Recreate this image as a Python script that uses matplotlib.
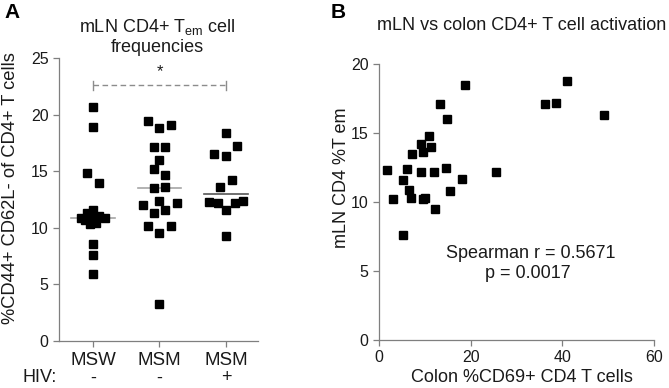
import numpy as np
import matplotlib
matplotlib.use("Agg")
import matplotlib.pyplot as plt

plt.rcParams['font.family'] = ['Liberation Sans', 'DejaVu Sans']

# panel A data: % CD44+ CD62L- of CD4+ T cells
groups = ["MSW", "MSM", "MSM"]
hiv = ["-", "-", "+"]
msw = [20.7, 18.9, 14.8, 14.0, 11.6, 11.3, 11.0, 10.9, 10.9, 10.8, 10.7, 10.4, 10.3, 8.6, 7.6, 5.9]
msm_neg = [19.4, 19.1, 18.8, 17.1, 17.1, 16.0, 15.2, 14.7, 13.6, 13.5, 12.4, 12.2, 12.0,
           11.6, 11.3, 10.2, 10.2, 9.5, 3.3]
msm_pos = [18.4, 17.2, 16.5, 16.3, 14.2, 13.6, 12.4, 12.3, 12.2, 12.2, 11.6, 9.3]

# horizontal scatter offsets (layout only)
msw_dx = [0, 0, -0.09, 0.09, 0, -0.09, 0.09, -0.18, 0.18, 0, -0.12, 0.05, -0.04, 0, 0, 0]
msm_neg_dx = [-0.17, 0.17, 0, -0.09, 0.09, 0, -0.09, 0.09, 0.09, -0.09, 0, 0.26, -0.25,
              0.09, -0.09, -0.17, 0.17, 0, 0]
msm_pos_dx = [0, 0.17, -0.18, 0, 0.09, -0.09, 0.25, -0.25, -0.12, 0.13, 0, 0]

# panel B data: colon %CD69+ vs mLN %Tem
colon = [1.8, 3.0, 5.2, 5.2, 6.2, 6.5, 6.9, 7.2, 9.2, 9.2, 9.5, 9.5, 10.0, 10.8,
         11.3, 11.9, 12.3, 13.2, 14.6, 14.9, 15.5, 18.1, 18.7, 25.5, 36.3, 38.6, 41.1, 49.0]
mln = [12.3, 10.2, 7.6, 11.6, 12.4, 10.9, 10.3, 13.5, 14.2, 12.2, 13.6, 10.2, 10.3, 14.8,
       14.0, 12.2, 9.5, 17.1, 12.5, 16.0, 10.8, 11.7, 18.5, 12.2, 17.1, 17.2, 18.8, 16.3]

W, H = 669, 388
fig = plt.figure(figsize=(W / 100, H / 100), dpi=100)
spine_col = '#7f7f7f'
txt = '#1a1a1a'

def style(ax):
    for s in ['top', 'right']:
        ax.spines[s].set_visible(False)
    for s in ['left', 'bottom']:
        ax.spines[s].set_color(spine_col)
        ax.spines[s].set_linewidth(0.9)
    ax.tick_params(colors=spine_col, labelcolor=txt, labelsize=11.5, length=4, width=0.9)

# ---- panel A
axA = fig.add_axes([59 / W, 1 - 341 / H, 199 / W, 283 / H])
style(axA)
sets = [(msw, msw_dx), (msm_neg, msm_neg_dx), (msm_pos, msm_pos_dx)]
med_cols = ['#a6a6a6', '#a6a6a6', '#555555']
for i, (vals, dx) in enumerate(sets):
    axA.plot(i + np.array(dx), vals, 's', color='black', markersize=5.6, ls='none',
             clip_on=False, zorder=3)
    m = np.median(vals)
    axA.plot([i - 0.33, i + 0.33], [m, m], color=med_cols[i], lw=1.2, zorder=2)
axA.set_xlim(-0.51, 2.48)
axA.set_ylim(0, 25)
axA.set_yticks([0, 5, 10, 15, 20, 25])
axA.set_xticks([0, 1, 2])
axA.set_xticklabels(groups, fontsize=13.5)
axA.tick_params(axis='x', pad=4)

# significance bracket
axA.plot([0, 2], [22.6, 22.6], color='#8c8c8c', lw=1, ls=(0, (4, 2.5)))
for xb in [0, 2]:
    axA.plot([xb, xb], [22.2, 23.0], color='#8c8c8c', lw=1)
axA.text(1, 23.1, '*', ha='center', va='bottom', fontsize=12, color=txt)

for i, h in enumerate(hiv):
    axA.text(i, -37 / 283, h, transform=axA.get_xaxis_transform(), ha='center', va='center',
             fontsize=13, color=txt)
fig.text(40 / W, 1 - 378 / H, 'HIV:', ha='center', va='center', fontsize=13, color=txt)

fig.text(11 / W, 1 - 188 / H, '%CD44+ CD62L- of CD4+ T cells', rotation=90, ha='center',
         va='center', fontsize=13.2, color=txt)
fig.text(157 / W, 1 - 27 / H, 'mLN CD4+ T$_{\\mathregular{em}}$ cell', ha='center', va='center',
         fontsize=13, color=txt)
fig.text(157 / W, 1 - 48 / H, 'frequencies', ha='center', va='center', fontsize=13, color=txt)
fig.text(4 / W, 1 - 13 / H, 'A', ha='left', va='center', fontsize=15, fontweight='bold')

# ---- panel B
axB = fig.add_axes([379 / W, 1 - 340 / H, 275 / W, 276 / H])
style(axB)
axB.plot(colon, mln, 's', color='black', markersize=5.6, ls='none', clip_on=False)
axB.set_xlim(0, 60)
axB.set_ylim(0, 20)
axB.set_xticks([0, 20, 40, 60])
axB.set_yticks([0, 5, 10, 15, 20])
axB.text(33, 6.3, 'Spearman r = 0.5671', ha='center', va='center', fontsize=13, color=txt)
axB.text(32.5, 4.8, 'p = 0.0017', ha='center', va='center', fontsize=13, color=txt)

fig.text(522 / W, 1 - 378 / H, 'Colon %CD69+ CD4 T cells', ha='center', va='center',
         fontsize=13, color=txt)
fig.text(342 / W, 1 - 178 / H, 'mLN CD4 %T em', rotation=90, ha='center', va='center',
         fontsize=13, color=txt)
fig.text(522 / W, 1 - 25 / H, 'mLN vs colon CD4+ T cell activation', ha='center', va='center',
         fontsize=13, color=txt)
fig.text(331 / W, 1 - 13 / H, 'B', ha='left', va='center', fontsize=15, fontweight='bold')

fig.savefig('out.png', dpi=100)
